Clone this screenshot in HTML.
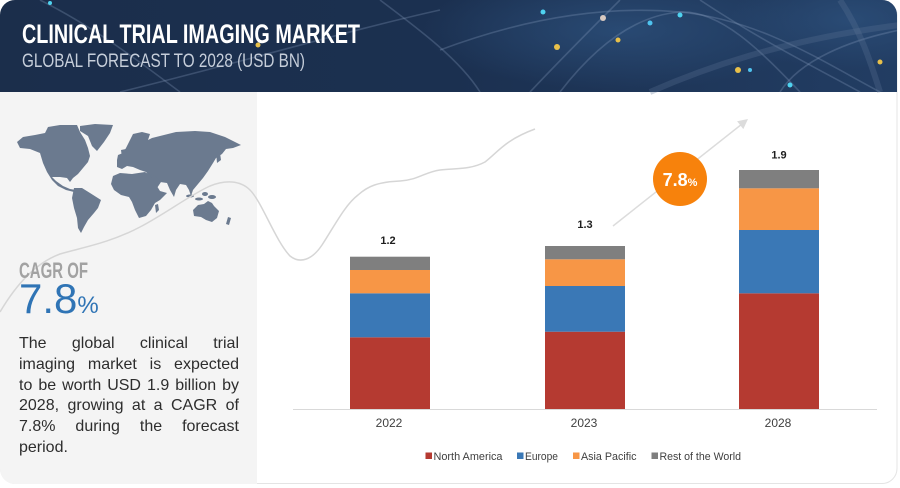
<!DOCTYPE html>
<html><head><meta charset="utf-8"><style>
html,body{margin:0;padding:0;background:#fff;}
#wrap{position:relative;width:900px;height:488px;overflow:hidden;font-family:"Liberation Sans",Arial,sans-serif;}
svg{position:absolute;left:0;top:0;}
.p{position:absolute;left:19px;width:220px;font-size:16px;line-height:20.8px;color:#2d2d2d;white-space:nowrap;text-align:justify;text-align-last:justify;}
.p.l{text-align-last:left;}
</style></head><body><div id="wrap">
<svg width="900" height="488" viewBox="0 0 900 488" xmlns="http://www.w3.org/2000/svg">
<defs>
<clipPath id="card"><rect x="0" y="0" width="897" height="484" rx="15" ry="15"/></clipPath>
<linearGradient id="hg" x1="0" y1="0" x2="1" y2="0">
<stop offset="0" stop-color="#1b2e4b"/><stop offset="0.5" stop-color="#1b3050"/><stop offset="1" stop-color="#223d63"/>
</linearGradient>
<radialGradient id="glow1" cx="0.5" cy="0.5" r="0.5"><stop offset="0" stop-color="#2c4f7a" stop-opacity="0.8"/><stop offset="1" stop-color="#2c4f7a" stop-opacity="0"/></radialGradient>
</defs>
<rect x="0.5" y="0.5" width="896.5" height="483" rx="15" ry="15" fill="#fff" stroke="#e4e4e4"/>
<g clip-path="url(#card)">
<rect x="0" y="0" width="900" height="92" fill="url(#hg)"/>
<ellipse cx="620" cy="30" rx="200" ry="60" fill="url(#glow1)"/>
<ellipse cx="850" cy="20" rx="120" ry="50" fill="url(#glow1)"/>
<g fill="none" stroke="#8fa6c4" stroke-opacity="0.28" stroke-width="1.6">
<path d="M440,50 C520,20 600,5 680,12 C760,20 820,60 880,92"/>
<path d="M560,92 C600,40 640,15 680,12 C720,10 760,50 800,92"/>
<path d="M530,92 C560,60 590,30 620,0"/>
<path d="M120,92 C250,60 350,30 440,10"/>
<path d="M700,0 C760,40 820,70 860,92"/>
<path d="M780,92 C800,60 850,40 900,30"/>
<path d="M40,0 C100,30 150,70 180,92"/>
<path d="M380,0 C420,30 460,60 480,92"/>
</g>
<g fill="none" stroke="#5e7396" stroke-opacity="0.3" stroke-width="6">
<path d="M650,92 C700,70 780,40 900,25"/>
<path d="M840,0 C860,30 870,60 880,92"/>
</g>
<g>
<circle cx="543" cy="12" r="2.5" fill="#4fd3f0"/>
<circle cx="557" cy="47" r="3" fill="#e8c04a"/>
<circle cx="618" cy="40" r="2.5" fill="#e8c04a"/>
<circle cx="650" cy="23" r="2.5" fill="#4fc3ef"/>
<circle cx="680" cy="15" r="2.5" fill="#4fd3f0"/>
<circle cx="738" cy="70" r="3" fill="#e8c04a"/>
<circle cx="750" cy="70" r="2" fill="#4fc3ef"/>
<circle cx="790" cy="85" r="2.5" fill="#4fd3f0"/>
<circle cx="603" cy="18" r="3" fill="#d8c9c0"/>
<circle cx="50" cy="3" r="2" fill="#4fd3f0"/>
<circle cx="258" cy="45" r="2.5" fill="#e8c04a"/>
<circle cx="880" cy="62" r="2.5" fill="#e8c04a"/>
</g>
<rect x="0" y="92" width="257" height="395" fill="#f4f4f4"/>
</g>
<text x="22" y="43" font-family="Liberation Sans, sans-serif" font-weight="bold" font-size="27" fill="#ffffff" textLength="338" lengthAdjust="spacingAndGlyphs">CLINICAL TRIAL IMAGING MARKET</text>
<text x="22" y="67" font-family="Liberation Sans, sans-serif" font-size="19.5" fill="#c6ceda" textLength="283" lengthAdjust="spacingAndGlyphs">GLOBAL FORECAST TO 2028 (USD BN)</text>

<!-- world map -->
<g fill="#6b7a8f">
<path d="M17,142 L23,137 L35,135 L45,133 L48,127 L60,125 L77,125 L80,132 L85,140 L88,148 L90,156 L88,162 L83,168 L78,174 L73,178 L70,182 L67,178 L60,177 L52,177 L56,181 L63,186 L70,189 L76,190 L74,192 L66,190 L58,186 L52,180 L47,172 L43,163 L40,153 L30,149 L20,148 Z"/>
<path d="M80,126 L95,124 L113,125 L110,133 L104,142 L97,151 L92,146 L88,136 L80,131 Z"/>
<path d="M117,167 L117,160 L118,155 L123,153 L126,148 L130,140 L133,134 L142,132 L150,134 L148,140 L152,138 L160,136 L176,132 L195,131 L210,132 L225,137 L241,145 L233,148 L226,149 L222,154 L216,158 L213,163 L208,171 L203,178 L198,184 L193,190 L191,196 L189,190 L186,185 L180,184 L176,190 L174,197 L170,190 L167,183 L160,182 L156,182 L150,176 L146,172 L140,170 L133,167 L127,166 L122,169 Z"/>
<path d="M147,173 L155,176 L161,182 L157,188 L151,183 Z"/>
<path d="M113,176 L120,173 L132,174 L145,172 L150,175 L155,183 L160,191 L167,193 L160,200 L155,203 L151,210 L146,216 L139,218 L135,210 L132,202 L129,197 L121,195 L114,190 L111,184 Z"/>
<path d="M74,188 L82,188 L90,193 L101,200 L98,208 L94,213 L88,220 L84,227 L81,233 L78,228 L77,218 L74,208 L72,198 Z"/>
<path d="M155,205 L158,204 L159,210 L156,213 Z"/>
<path d="M193,210 L198,205 L204,204 L208,201 L212,203 L214,206 L219,211 L217,218 L212,222 L206,220 L201,217 L194,216 Z"/>
<path d="M121,150 L126,149 L127,157 L122,158 Z"/>
<path d="M216,152 L220,153 L221,160 L217,163 Z"/>
<ellipse cx="190" cy="196" rx="4" ry="1.5"/>
<ellipse cx="199" cy="199" rx="4" ry="1.5"/>
<ellipse cx="205" cy="194" rx="3" ry="2"/>
<ellipse cx="212" cy="197" rx="4" ry="2"/>
<path d="M228,217 L231,218 L229,225 L226,224 Z"/>
</g>

<!-- decorative curve -->
<path d="M0,312 C10,295 30,265 60,254 C80,248 110,243 140,227 C165,214 190,195 210,186 C225,180 240,180 250,190 C262,202 275,240 290,256 C300,264 312,260 322,245 C335,225 345,205 358,195 C368,186 378,182 400,181 C418,180 425,172 440,170 C455,168 470,170 485,162 C498,152 505,140 535,129" fill="none" stroke="#d6d6d6" stroke-width="1.5"/>

<text x="19" y="278" font-family="Liberation Sans, sans-serif" font-weight="bold" font-size="22" fill="#a2a2a2" textLength="69" lengthAdjust="spacingAndGlyphs">CAGR OF</text>
<text x="19" y="313" font-family="Liberation Sans, sans-serif" font-size="42" fill="#2f74b5">7.8<tspan font-size="24">%</tspan></text>

<!-- axis -->
<line x1="293" y1="409.5" x2="877" y2="409.5" stroke="#d9d9d9" stroke-width="1"/>

<!-- bars -->
<rect x="350" y="337.3" width="80" height="71.7" fill="#b53a31"/>
<rect x="350" y="293.3" width="80" height="44" fill="#3a78b6"/>
<rect x="350" y="270" width="80" height="23.3" fill="#f79646"/>
<rect x="350" y="256.7" width="80" height="13.3" fill="#7f7f7f"/>

<rect x="545" y="331.7" width="80" height="77.3" fill="#b53a31"/>
<rect x="545" y="286" width="80" height="45.7" fill="#3a78b6"/>
<rect x="545" y="259.3" width="80" height="26.7" fill="#f79646"/>
<rect x="545" y="246" width="80" height="13.3" fill="#7f7f7f"/>

<rect x="739" y="293.3" width="80" height="115.7" fill="#b53a31"/>
<rect x="739" y="230" width="80" height="63.3" fill="#3a78b6"/>
<rect x="739" y="188.3" width="80" height="41.7" fill="#f79646"/>
<rect x="739" y="170" width="80" height="18.3" fill="#7f7f7f"/>

<g font-family="Liberation Sans, sans-serif" font-weight="bold" font-size="11" fill="#1e1e1e" text-anchor="middle">
<text x="388" y="244">1.2</text>
<text x="585" y="228">1.3</text>
<text x="779" y="158.5">1.9</text>
</g>
<g font-family="Liberation Sans, sans-serif" font-size="12" fill="#404040" text-anchor="middle">
<text x="389" y="427">2022</text>
<text x="584" y="427">2023</text>
<text x="778" y="427">2028</text>
</g>

<!-- arrow + cagr bubble -->
<line x1="613" y1="226" x2="742" y2="124" stroke="#dcdcdc" stroke-width="1.5"/>
<path d="M748,119 L743.3,129.1 L737.1,121.3 Z" fill="#dcdcdc"/>
<ellipse cx="680" cy="179" rx="27" ry="27" fill="#f7820c"/>
<text x="680" y="186" text-anchor="middle" font-family="Liberation Sans, sans-serif" font-weight="bold" font-size="18" fill="#ffffff">7.8<tspan font-size="11">%</tspan></text>

<!-- legend -->
<g font-family="Liberation Sans, sans-serif" font-size="11" fill="#404040">
<rect x="425.5" y="452.5" width="6.5" height="6.5" fill="#b53a31"/>
<text x="433.5" y="460" textLength="69" lengthAdjust="spacingAndGlyphs">North America</text>
<rect x="517" y="452.5" width="6.5" height="6.5" fill="#3a78b6"/>
<text x="525" y="460" textLength="33" lengthAdjust="spacingAndGlyphs">Europe</text>
<rect x="573" y="452.5" width="6.5" height="6.5" fill="#f79646"/>
<text x="581" y="460" textLength="55.5" lengthAdjust="spacingAndGlyphs">Asia Pacific</text>
<rect x="651.5" y="452.5" width="6.5" height="6.5" fill="#7f7f7f"/>
<text x="659.5" y="460" textLength="81.5" lengthAdjust="spacingAndGlyphs">Rest of the World</text>
</g>
</svg>
<div class="p" style="top:334px">The global clinical trial</div>
<div class="p" style="top:354.8px">imaging market is expected</div>
<div class="p" style="top:375.6px">to be worth USD 1.9 billion by</div>
<div class="p" style="top:396.4px">2028, growing at a CAGR of</div>
<div class="p" style="top:417.2px">7.8% during the forecast</div>
<div class="p l" style="top:438px">period.</div>
</div></body></html>
